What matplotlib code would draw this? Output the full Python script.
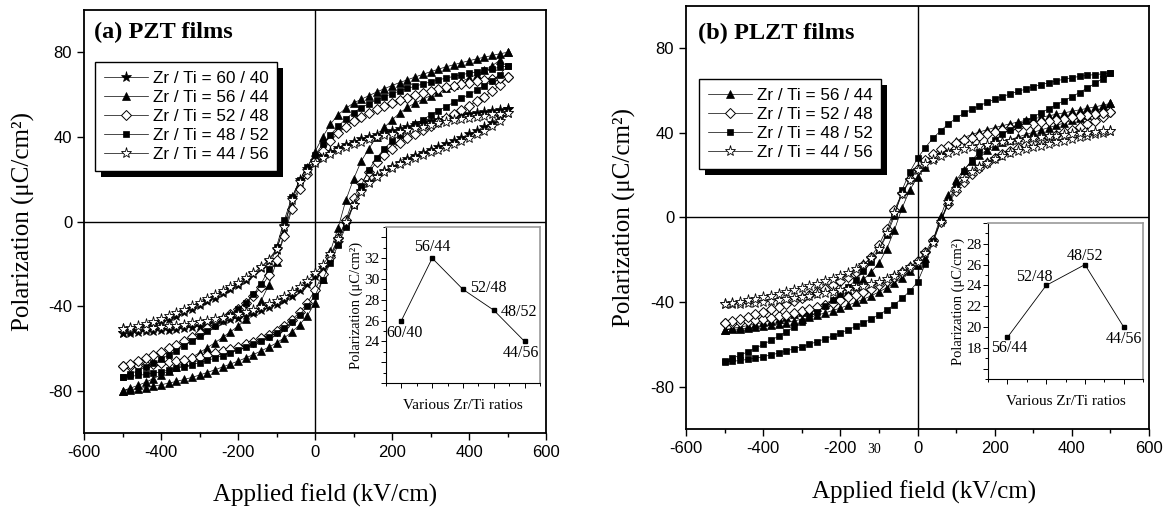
import matplotlib
matplotlib.use("Agg")
import matplotlib.pyplot as plt
from matplotlib.patches import Rectangle
from matplotlib.transforms import IdentityTransform
from matplotlib.ticker import MultipleLocator, FuncFormatter, NullFormatter

plt.rcParams['font.family'] = ['Liberation Sans', 'DejaVu Sans']
plt.rcParams['axes.unicode_minus'] = False
SERIF = ['Liberation Serif', 'DejaVu Serif']

# applied field sweep (kV/cm), one branch
field = [-500, -480, -460, -440, -420, -400, -380, -360, -340, -320,
         -300, -280, -260, -240, -220, -200, -180, -160, -140, -120,
         -100, -80, -60, -40, -20, 0, 20, 40, 60, 80,
         100, 120, 140, 160, 180, 200, 220, 240, 260, 280,
         300, 320, 340, 360, 380, 400, 420, 440, 460, 480,
         500]

# ---- (a) PZT films: polarization (uC/cm2), upper (field going down) and lower (field going up) branches
pzt_6040_up = [-52.5, -51.7, -51.0, -50.0, -48.8, -47.5, -46.2, -44.8, -43.0, -41.2,
               -39.5, -37.8, -36.0, -34.0, -32.0, -30.0, -27.5, -25.0, -22.0, -18.5,
               -13.5, -2.0, 11.0, 19.5, 25.0, 28.5, 31.0, 33.0, 34.8, 36.4,
               37.8, 39.0, 40.1, 41.1, 42.0, 42.9, 43.8, 44.7, 45.6, 46.5,
               47.4, 48.2, 48.9, 49.6, 50.2, 50.8, 51.3, 51.8, 52.3, 52.8,
               53.3]
pzt_6040_lo = [-52.5, -52.5, -52.3, -52.0, -51.8, -51.5, -51.2, -50.8, -50.3, -49.8,
               -49.2, -48.6, -47.9, -47.1, -46.3, -45.4, -44.4, -43.3, -42.0, -40.6,
               -39.0, -37.2, -35.0, -32.5, -29.5, -26.0, -22.0, -17.0, -10.0, -1.0,
               8.0, 14.5, 18.5, 21.5, 24.0, 26.0, 27.8, 29.4, 30.9, 32.3,
               33.7, 35.1, 36.6, 38.1, 39.7, 41.3, 43.0, 44.8, 46.8, 49.5,
               53.3]
pzt_5644_up = [-80.0, -78.8, -77.5, -76.0, -74.3, -72.5, -70.6, -68.6, -66.5, -64.3,
               -62.0, -59.7, -57.3, -54.8, -52.2, -49.5, -46.3, -42.5, -37.5, -30.0,
               -19.0, -5.0, 7.5, 17.0, 25.5, 33.0, 40.0, 46.0, 50.5, 53.5,
               56.0, 57.8, 59.5, 61.2, 62.8, 64.3, 65.7, 67.0, 68.3, 69.6,
               70.8, 72.0, 73.1, 74.1, 75.1, 76.0, 76.9, 77.7, 78.5, 79.3,
               80.0]
pzt_5644_lo = [-80.0, -79.5, -79.0, -78.5, -77.9, -77.2, -76.4, -75.6, -74.7, -73.7,
               -72.6, -71.4, -70.1, -68.8, -67.4, -66.0, -64.5, -62.9, -61.2, -59.4,
               -57.4, -55.0, -52.3, -48.8, -44.5, -38.5, -27.0, -14.0, -3.0, 10.0,
               20.0, 28.5, 34.5, 40.0, 44.5, 48.0, 51.3, 54.0, 56.0, 57.8,
               59.5, 61.2, 62.9, 64.6, 66.2, 67.8, 69.5, 71.4, 73.6, 76.3,
               80.0]
pzt_5248_up = [-68.5, -67.3, -66.0, -64.6, -63.1, -61.5, -59.9, -58.2, -56.4, -54.5,
               -52.5, -50.5, -48.4, -46.2, -43.9, -41.4, -38.6, -35.2, -31.0, -25.5,
               -18.0, -7.0, 6.0, 15.5, 22.5, 28.5, 33.5, 38.0, 41.8, 44.8,
               47.3, 49.4, 51.3, 53.0, 54.6, 56.0, 57.3, 58.5, 59.6, 60.6,
               61.6, 62.5, 63.4, 64.2, 65.0, 65.7, 66.3, 66.9, 67.5, 68.0,
               68.5]
pzt_5248_lo = [-68.5, -68.3, -68.0, -67.7, -67.3, -66.9, -66.4, -65.9, -65.3, -64.6,
               -63.9, -63.1, -62.3, -61.4, -60.4, -59.3, -58.1, -56.8, -55.3, -53.6,
               -51.6, -49.2, -46.4, -43.0, -38.5, -32.5, -25.0, -17.0, -8.0, 0.5,
               11.0, 18.0, 23.5, 28.0, 31.5, 34.5, 37.0, 39.3, 41.4, 43.4,
               45.3, 47.2, 49.1, 51.0, 52.9, 54.8, 56.8, 59.0, 61.5, 64.5,
               68.5]
pzt_4852_up = [-73.5, -72.1, -70.5, -68.8, -67.0, -65.1, -63.1, -61.0, -58.8, -56.5,
               -54.1, -51.7, -49.2, -46.7, -44.1, -41.4, -38.3, -34.5, -29.5, -22.5,
               -12.0, 0.5, 11.5, 19.5, 26.0, 31.5, 36.5, 41.0, 45.0, 48.5,
               51.5, 53.8, 55.7, 57.4, 59.0, 60.4, 61.7, 62.9, 64.0, 65.0,
               66.0, 66.9, 67.8, 68.6, 69.4, 70.1, 70.8, 71.5, 72.2, 72.9,
               73.5]
pzt_4852_lo = [-73.5, -73.2, -72.8, -72.3, -71.7, -71.0, -70.3, -69.5, -68.6, -67.7,
               -66.7, -65.7, -64.6, -63.4, -62.2, -60.9, -59.5, -58.0, -56.4, -54.6,
               -52.6, -50.2, -47.4, -44.0, -40.0, -35.0, -27.5, -19.5, -11.0, -2.5,
               8.0, 17.0, 24.5, 30.0, 34.5, 38.0, 41.0, 43.6, 46.0, 48.2,
               50.3, 52.3, 54.3, 56.3, 58.2, 60.1, 62.1, 64.2, 66.5, 69.5,
               73.5]
pzt_4456_up = [-51.0, -50.2, -49.4, -48.4, -47.3, -46.0, -44.7, -43.3, -41.7, -40.0,
               -38.3, -36.6, -34.8, -32.9, -31.0, -29.0, -26.8, -24.3, -21.5, -18.0,
               -13.0, -2.5, 10.0, 18.5, 24.0, 27.5, 30.0, 32.0, 33.7, 35.2,
               36.5, 37.7, 38.8, 39.8, 40.7, 41.6, 42.5, 43.3, 44.1, 44.9,
               45.7, 46.5, 47.2, 47.9, 48.5, 49.1, 49.6, 50.1, 50.6, 51.0,
               51.4]
pzt_4456_lo = [-51.0, -51.0, -50.8, -50.6, -50.3, -50.0, -49.6, -49.2, -48.7, -48.2,
               -47.6, -47.0, -46.3, -45.5, -44.7, -43.8, -42.8, -41.7, -40.4, -39.0,
               -37.4, -35.6, -33.5, -31.0, -28.0, -24.5, -20.5, -15.5, -8.5, 0.0,
               8.0, 14.0, 18.0, 21.0, 23.5, 25.5, 27.2, 28.7, 30.1, 31.4,
               32.7, 34.0, 35.3, 36.7, 38.1, 39.6, 41.2, 43.0, 45.0, 47.6,
               51.4]

# ---- (b) PLZT films
plzt_5644_up = [-53.0, -52.4, -51.8, -51.1, -50.4, -49.6, -48.8, -47.9, -46.9, -45.8,
                -44.7, -43.5, -42.2, -40.7, -39.0, -37.0, -34.8, -32.3, -29.3, -25.8,
                -21.5, -15.0, -6.0, 4.5, 13.0, 19.0, 24.0, 28.0, 31.3, 34.0,
                36.2, 37.8, 39.2, 40.4, 41.5, 42.5, 43.4, 44.3, 45.1, 45.9,
                46.7, 47.4, 48.1, 48.8, 49.5, 50.2, 50.9, 51.6, 52.3, 53.1,
                54.0]
plzt_5644_lo = [-53.0, -52.9, -52.7, -52.4, -52.0, -51.5, -51.0, -50.4, -49.7, -48.9,
                -48.1, -47.2, -46.2, -45.1, -44.0, -42.8, -41.5, -40.1, -38.6, -37.0,
                -35.2, -33.2, -31.0, -28.5, -25.5, -22.5, -19.0, -11.0, 0.5, 10.5,
                17.5, 22.5, 26.5, 29.5, 32.0, 34.0, 35.5, 36.8, 38.0, 39.2,
                40.3, 41.4, 42.5, 43.6, 44.7, 45.9, 47.1, 48.4, 49.9, 51.7,
                54.0]
plzt_5248_up = [-50.0, -49.0, -48.0, -46.9, -45.8, -44.6, -43.4, -42.2, -40.9, -39.6,
                -38.2, -36.8, -35.3, -33.7, -32.0, -30.1, -28.0, -25.6, -22.6, -18.5,
                -13.0, -5.5, 3.5, 11.5, 18.0, 23.0, 27.0, 30.0, 32.3, 34.0,
                35.4, 36.6, 37.7, 38.7, 39.6, 40.5, 41.3, 42.1, 42.9, 43.6,
                44.3, 45.0, 45.6, 46.2, 46.8, 47.4, 47.9, 48.4, 49.0, 49.5,
                50.0]
plzt_5248_lo = [-50.0, -49.8, -49.5, -49.1, -48.6, -48.1, -47.5, -46.8, -46.0, -45.2,
                -44.3, -43.4, -42.4, -41.3, -40.2, -39.0, -37.8, -36.5, -35.1, -33.6,
                -32.0, -30.2, -28.2, -26.0, -23.5, -20.5, -16.5, -10.5, -2.0, 6.5,
                12.5, 17.0, 20.5, 23.5, 26.0, 28.2, 30.0, 31.6, 33.0, 34.3,
                35.5, 36.7, 37.9, 39.1, 40.3, 41.6, 42.9, 44.3, 45.8, 47.6,
                50.0]
plzt_4852_up = [-68.0, -66.6, -65.1, -63.5, -61.8, -60.0, -58.1, -56.1, -54.0, -51.8,
                -49.5, -47.1, -44.6, -42.0, -39.2, -36.2, -33.0, -29.5, -25.5, -21.0,
                -15.5, -8.5, 0.5, 13.0, 21.5, 28.0, 33.0, 37.5, 41.0, 44.2,
                47.0, 49.2, 51.1, 52.8, 54.4, 55.9, 57.2, 58.4, 59.6, 60.7,
                61.8, 62.8, 63.7, 64.6, 65.4, 66.1, 66.7, 67.2, 67.6, 67.9,
                68.2]
plzt_4852_lo = [-68.2, -68.0, -67.6, -67.1, -66.5, -65.8, -65.0, -64.1, -63.1, -62.1,
                -61.0, -59.9, -58.7, -57.4, -56.0, -54.6, -53.1, -51.5, -49.8, -48.0,
                -46.0, -43.8, -41.2, -38.2, -34.8, -30.5, -22.0, -11.0, -1.5, 7.5,
                15.5, 22.0, 27.0, 30.8, 34.0, 36.8, 39.3, 41.6, 43.7, 45.7,
                47.6, 49.5, 51.4, 53.3, 55.2, 57.1, 59.1, 61.2, 63.4, 65.7,
                68.2]
plzt_4456_up = [-41.0, -40.4, -39.8, -39.1, -38.4, -37.7, -36.9, -36.1, -35.2, -34.3,
                -33.4, -32.4, -31.3, -30.2, -29.0, -27.7, -26.2, -24.5, -22.3, -19.3,
                -15.0, -7.5, 2.0, 11.0, 17.5, 22.5, 25.3, 27.4, 29.0, 30.3,
                31.4, 32.3, 33.1, 33.8, 34.5, 35.1, 35.6, 36.1, 36.6, 37.1,
                37.5, 37.9, 38.3, 38.7, 39.1, 39.5, 39.8, 40.1, 40.4, 40.7,
                41.0]
plzt_4456_lo = [-41.0, -40.9, -40.7, -40.5, -40.2, -39.9, -39.5, -39.1, -38.6, -38.1,
                -37.5, -36.9, -36.3, -35.7, -35.0, -34.4, -33.7, -33.0, -32.3, -31.5,
                -30.5, -29.2, -27.8, -26.0, -23.5, -21.0, -17.0, -12.0, -2.0, 7.5,
                13.5, 18.0, 21.5, 24.0, 26.0, 27.7, 29.1, 30.3, 31.3, 32.2,
                33.1, 33.9, 34.7, 35.5, 36.3, 37.1, 37.9, 38.6, 39.3, 40.1,
                41.0]

# ---- insets: remanent polarization vs composition
pzt_ratios = ["60/40", "56/44", "52/48", "48/52", "44/56"]
pzt_pr = [26, 32, 29, 27, 24]
plzt_ratios = ["56/44", "52/48", "48/52", "44/56"]
plzt_pr = [19, 24, 26, 20]

# marker styles
STAR = dict(marker='*', ms=8, mfc='k', mec='k', mew=0.5)
TRI = dict(marker='^', ms=6.2, mfc='k', mec='k', mew=0.5)
DIA = dict(marker='D', ms=4.8, mfc='w', mec='k', mew=0.7)
SQR = dict(marker='s', ms=4.8, mfc='k', mec='k', mew=0.5)
OSTAR = dict(marker='*', ms=8, mfc='w', mec='k', mew=0.6)


def main_panel(ax, series, title, title_pos, leg_anchor, xlab_pos, ylab_x):
    for up, lo, style, label in series:
        x = field + field[::-1]
        y = lo + up[::-1]
        ax.plot(x, y, color='k', lw=0.5, label=label, **style)
    ax.axhline(0, color='k', lw=1.0, zorder=1)
    ax.axvline(0, color='k', lw=1.0, zorder=1)
    ax.set_xlim(-600, 600)
    ax.set_ylim(-100, 100)
    ax.xaxis.set_major_locator(MultipleLocator(200))
    ax.xaxis.set_minor_locator(MultipleLocator(100))
    ax.yaxis.set_major_locator(MultipleLocator(40))
    ax.tick_params(which='both', direction='out', top=False, right=False,
                   width=1.0, labelsize=12)
    ax.tick_params(which='major', length=5)
    ax.tick_params(which='minor', length=3)
    for s in ax.spines.values():
        s.set_linewidth(1.3)
    ax.set_xlabel("Applied field (kV/cm)", family=SERIF, fontsize=18, va='center')
    ax.set_ylabel("Polarization (\u03bcC/cm\u00b2)", family=SERIF, fontsize=18, va='center')
    ax.xaxis.set_label_coords(*xlab_pos)
    ax.yaxis.set_label_coords(ylab_x, 0.5)
    ax.text(title_pos[0], title_pos[1], title, transform=ax.transAxes, family=SERIF,
            fontweight='bold', fontsize=17.5, ha='left', va='center')
    leg = ax.legend(loc='upper left', bbox_to_anchor=leg_anchor, borderaxespad=0,
                    fancybox=False, edgecolor='k', framealpha=1, numpoints=1,
                    handlelength=2.6, handletextpad=0.3, labelspacing=0.24,
                    borderpad=0.5, fontsize=12.3)
    leg.get_frame().set_linewidth(1.0)
    return leg


def inset(rect, labels, values, offsets, ylim, lab_lo, lab_hi):
    ins = fig.add_axes(rect)
    xs = list(range(1, len(values) + 1))
    ins.plot(xs, values, color='k', lw=0.6, marker='s', ms=2.3)
    for x, v, lab, off in zip(xs, values, labels, offsets):
        ins.annotate(lab, (x, v), xytext=off, textcoords='offset pixels',
                     ha='center', va='center', family=SERIF, fontsize=11.5)
    ins.set_xlim(0.5, len(values) + 0.5)
    ins.set_ylim(*ylim)
    ins.set_xticks(xs)
    ins.xaxis.set_minor_locator(MultipleLocator(0.5))
    ins.xaxis.set_major_formatter(NullFormatter())
    ins.yaxis.set_major_locator(MultipleLocator(2))
    ins.yaxis.set_minor_locator(MultipleLocator(1))
    ins.yaxis.set_major_formatter(
        FuncFormatter(lambda v, p: f"{v:.0f}" if lab_lo <= v <= lab_hi else ""))
    ins.tick_params(which='both', direction='out', top=False, right=False, width=0.7)
    ins.tick_params(which='major', length=3.5, labelsize=11, pad=1)
    ins.tick_params(which='minor', length=2)
    for lbl in ins.get_yticklabels():
        lbl.set_family(SERIF)
    for side in ('top', 'right'):
        ins.spines[side].set_color('#9a9a9a')
        ins.spines[side].set_linewidth(1.2)
    for side in ('left', 'bottom'):
        ins.spines[side].set_linewidth(0.8)
    ins.set_xlabel("Various Zr/Ti ratios", family=SERIF, fontsize=11, labelpad=6)
    ins.set_ylabel("Polarization (\u03bcC/cm\u00b2)", family=SERIF, fontsize=10.5, labelpad=1)
    return ins


fig = plt.figure(figsize=(11.69, 5.11), dpi=100)
ax_a = fig.add_axes([0.07186, 0.15264, 0.39521, 0.82779])
ax_b = fig.add_axes([0.58683, 0.16047, 0.39606, 0.82779])

series_a = [
    (pzt_6040_up, pzt_6040_lo, STAR, "Zr / Ti = 60 / 40"),
    (pzt_5644_up, pzt_5644_lo, TRI, "Zr / Ti = 56 / 44"),
    (pzt_5248_up, pzt_5248_lo, DIA, "Zr / Ti = 52 / 48"),
    (pzt_4852_up, pzt_4852_lo, SQR, "Zr / Ti = 48 / 52"),
    (pzt_4456_up, pzt_4456_lo, OSTAR, "Zr / Ti = 44 / 56"),
]
series_b = [
    (plzt_5644_up, plzt_5644_lo, TRI, "Zr / Ti = 56 / 44"),
    (plzt_5248_up, plzt_5248_lo, DIA, "Zr / Ti = 52 / 48"),
    (plzt_4852_up, plzt_4852_lo, SQR, "Zr / Ti = 48 / 52"),
    (plzt_4456_up, plzt_4456_lo, OSTAR, "Zr / Ti = 44 / 56"),
]

leg_a = main_panel(ax_a, series_a, "(a) PZT films", (0.022, 0.946), (0.0238, 0.877),
                   (0.522, -0.147), -0.130)
leg_b = main_panel(ax_b, series_b, "(b) PLZT films", (0.026, 0.936), (0.028, 0.827),
                   (0.514, -0.149), -0.132)

inset([0.3302, 0.2505, 0.1317, 0.3053], pzt_ratios, pzt_pr,
      [(3, -12), (0, 11), (25, 1), (25, -1.5), (-4, -12)], (20, 35), 24, 32)
inset([0.8452, 0.2583, 0.1326, 0.3053], plzt_ratios, plzt_pr,
      [(2, -11), (-12, 8), (0, 9), (0, -11.7)], (15, 30), 18, 28)

# stray page number from the scan
fig.text(874 / 1169, 1 - 449 / 511, "30", family=SERIF, fontsize=10, ha='center', va='center')

# black drop shadows behind the legends
fig.canvas.draw()
for ax, leg in ((ax_a, leg_a), (ax_b, leg_b)):
    bb = leg.get_frame().get_window_extent()
    sh = Rectangle((bb.x0 + 6, bb.y0 - 6), bb.width, bb.height, transform=IdentityTransform(),
                   fc='k', ec='none', zorder=leg.get_zorder() - 0.5)
    ax.add_patch(sh)

fig.savefig("out.png", dpi=100)
